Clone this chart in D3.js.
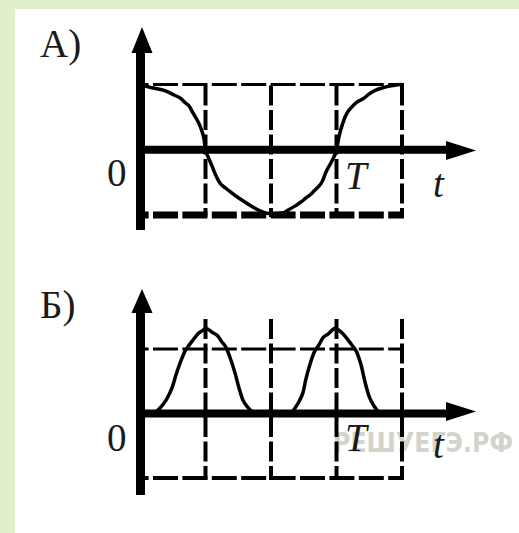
<!DOCTYPE html>
<html>
<head>
<meta charset="utf-8">
<script src="https://cdn.jsdelivr.net/npm/d3@7"></script>
<style>
    body { margin: 0; background: #fff; }
</style>
</head>
<body>
<script>
//grid columns, counted in quarters of the period T
var gridT = [0, 1, 2, 3, 4];

//panel A curve: [t in T/4, value in amplitudes]
var curveA = [
    [0, 1.0], [0.14, 0.96], [0.40, 0.90], [0.52, 0.84], [0.63, 0.78], [0.69, 0.72],
    [0.75, 0.67], [0.81, 0.56], [0.87, 0.46], [0.93, 0.33], [0.98, 0.15], [1.0, 0],
    [1.04, -0.11], [1.10, -0.25], [1.16, -0.40], [1.22, -0.51], [1.31, -0.59], [1.40, -0.66],
    [1.48, -0.72], [1.60, -0.80], [1.69, -0.86], [1.80, -0.92], [1.92, -0.97], [2.02, -0.98],
    [2.18, -0.97], [2.27, -0.92], [2.37, -0.86], [2.46, -0.80], [2.53, -0.74], [2.60, -0.69],
    [2.66, -0.63], [2.72, -0.57], [2.78, -0.49], [2.84, -0.34], [2.92, -0.19], [3.0, 0],
    [3.04, 0.21], [3.10, 0.42], [3.16, 0.56], [3.22, 0.64], [3.31, 0.73], [3.42, 0.79],
    [3.48, 0.84], [3.57, 0.90], [3.74, 0.96], [3.89, 0.99], [4.0, 1.0]
];

//panel B curve (two peaks above the upper dashed level)
var curveB = [
    [0, 0], [0.23, 0.02], [0.31, 0.09], [0.40, 0.21], [0.49, 0.40], [0.55, 0.60],
    [0.63, 0.83], [0.69, 0.97], [0.75, 1.06], [0.81, 1.14], [0.87, 1.22], [0.96, 1.29],
    [1.0, 1.32], [1.10, 1.26], [1.19, 1.20], [1.25, 1.11], [1.31, 1.03], [1.37, 0.88],
    [1.45, 0.63], [1.51, 0.40], [1.57, 0.21], [1.65, 0.09], [1.73, 0.02], [1.83, 0],
    [2.29, 0], [2.37, 0.09], [2.44, 0.21], [2.49, 0.33], [2.53, 0.52], [2.60, 0.78],
    [2.66, 0.95], [2.73, 1.06], [2.79, 1.17], [2.87, 1.23], [2.98, 1.32], [3.05, 1.28],
    [3.13, 1.20], [3.22, 1.08], [3.31, 0.95], [3.37, 0.77], [3.44, 0.47], [3.50, 0.26],
    [3.57, 0.12], [3.66, 0.02], [3.79, 0], [4.0, 0]
];

var panelNames = ["А)", "Б)"];
var originText = "0", periodText = "T", timeText = "t";
var watermarkText = "РЕШУЕГЭ.РФ";

var w = 519, h = 533;

var svg = d3.select("body")
    .append("svg")
    .attr("width", w)
    .attr("height", h);

//green frame on top and left
svg.append("rect")
    .attr("width", w)
    .attr("height", h)
    .attr("fill", "#dff0cb");
svg.append("rect")
    .attr("x", 15)
    .attr("y", 9)
    .attr("width", w - 15)
    .attr("height", h - 9)
    .attr("fill", "#fff");

//watermark sits behind the drawing
svg.append("text")
    .attr("x", 333)
    .attr("y", 452)
    .attr("textLength", 180)
    .attr("lengthAdjust", "spacingAndGlyphs")
    .style("font-family", "DejaVu Sans")
    .style("font-weight", "bold")
    .style("font-size", "26px")
    .style("fill", "#d2d3cb")
    .text(watermarkText);

var x = d3.scaleLinear().domain([0, 4]).range([140, 402]);

var panels = [
    {
        name: panelNames[0], data: curveA,
        y: d3.scaleLinear().domain([-1, 1]).range([215, 84.5]),
        gridTop: 1, levels: [{v: 1, w: 3}, {v: -1, w: 7}],
        axisTop: 27, arrowBase: 53, axisBottom: 230, arrowY: 150.5,
        nameY: 57, zeroY: 186, periodY: 189, timeY: 197
    },
    {
        name: panelNames[1], data: curveB,
        y: d3.scaleLinear().domain([-1, 1]).range([478, 349]),
        gridTop: 1.48, levels: [{v: 1, w: 3}, {v: -1, w: 4}],
        axisTop: 289, arrowBase: 313, axisBottom: 495, arrowY: 411.5,
        nameY: 318, zeroY: 451, periodY: 451, timeY: 458
    }
];

panels.forEach(function(p) {
    var g = svg.append("g").attr("class", "panel");

    //horizontal dashed levels
    g.selectAll(".level")
        .data(p.levels)
        .enter()
        .append("line")
        .attr("class", "level")
        .attr("x1", x(0) + 5)
        .attr("x2", x(4) + 2)
        .attr("y1", function(d) { return p.y(d.v); })
        .attr("y2", function(d) { return p.y(d.v); })
        .attr("stroke", "#000")
        .attr("stroke-width", function(d) { return d.w; })
        .attr("stroke-dasharray", "25,4.4")
        .attr("stroke-dashoffset", 21.4);

    //vertical dashed grid
    g.selectAll(".col")
        .data(gridT.slice(1))
        .enter()
        .append("line")
        .attr("class", "col")
        .attr("x1", function(d) { return x(d); })
        .attr("x2", function(d) { return x(d); })
        .attr("y1", p.y(p.gridTop) - 1)
        .attr("y2", p.y(-1) + 2)
        .attr("stroke", "#000")
        .attr("stroke-width", 4)
        .attr("stroke-dasharray", "20,4.5")
        .attr("stroke-dashoffset", 22.5);

    //the curve
    var line = d3.line()
        .x(function(d) { return x(d[0]); })
        .y(function(d) { return p.y(d[1]); })
        .curve(d3.curveMonotoneX);
    g.append("path")
        .datum(p.data)
        .attr("d", line)
        .attr("fill", "none")
        .attr("stroke", "#000")
        .attr("stroke-width", 3.5)
        .attr("stroke-linejoin", "round");

    //axes
    var y0 = p.y(0);
    g.append("rect")
        .attr("x", x(0) - 4)
        .attr("y", p.arrowBase - 2)
        .attr("width", 9)
        .attr("height", p.axisBottom - p.arrowBase + 2)
        .attr("fill", "#000");
    g.append("path")
        .attr("d", "M" + (x(0) + 2) + "," + p.axisTop +
            "L" + (x(0) + 12.5) + "," + p.arrowBase +
            "L" + (x(0) - 8.5) + "," + p.arrowBase + "Z")
        .attr("fill", "#000");
    g.append("rect")
        .attr("x", x(0) - 4)
        .attr("y", y0 - 4)
        .attr("width", 447 - x(0) + 4)
        .attr("height", 8)
        .attr("fill", "#000");
    g.append("path")
        .attr("d", "M476," + p.arrowY +
            "L446," + (p.arrowY - 9.5) +
            "L446," + (p.arrowY + 9.5) + "Z")
        .attr("fill", "#000");

    //labels
    var serif = function(sel, italic) {
        return sel.style("font-family", "Liberation Serif, Times New Roman, serif")
            .style("font-size", "39px")
            .style("font-style", italic ? "italic" : "normal")
            .style("fill", "#1a1a1a");
    };
    serif(g.append("text").attr("x", 40).attr("y", p.nameY).text(p.name), false);
    serif(g.append("text").attr("x", 107).attr("y", p.zeroY).text(originText), false);
    serif(g.append("text").attr("x", 345).attr("y", p.periodY).text(periodText), true);
    serif(g.append("text").attr("x", 433).attr("y", p.timeY).text(timeText), true);
});
</script>
</body>
</html>
